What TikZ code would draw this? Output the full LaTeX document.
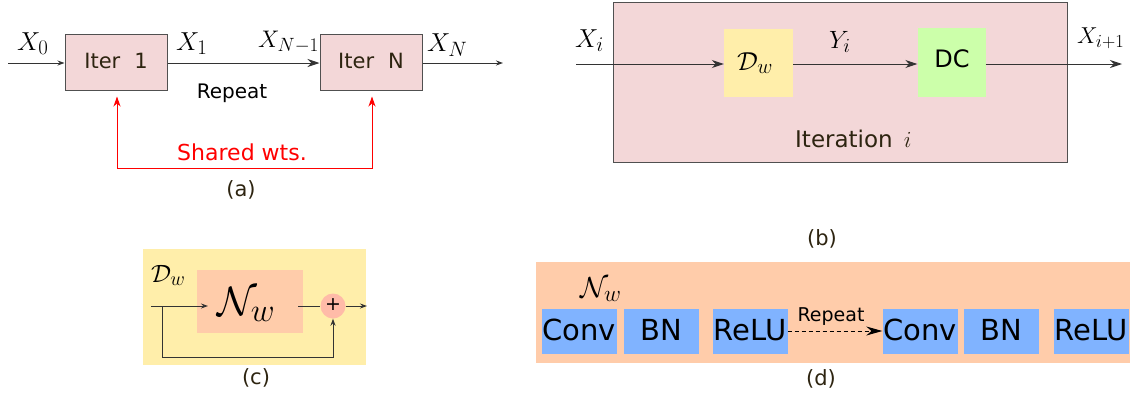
\RequirePackage{fix-cm}
\documentclass[tikz,border=0pt]{standalone}
\usepackage[no-math]{fontspec}
\setsansfont{DejaVu Sans}
\usetikzlibrary{arrows.meta}
\DeclareMathSizes{23}{23}{18.4}{13.8}
\DeclareMathSizes{24}{24}{19.2}{14.4}
\DeclareMathSizes{25}{25}{20}{15}
\DeclareMathSizes{26}{26}{20.8}{15.6}
\DeclareMathSizes{29}{29}{23.2}{17.4}
\DeclareMathSizes{41}{41}{32.8}{24.6}
\definecolor{brn}{HTML}{2D2410}
\definecolor{pinkbox}{HTML}{F3D7D8}
\definecolor{yelbox}{HTML}{FFEEAA}
\definecolor{grnbox}{HTML}{CCFFAA}
\definecolor{salm}{HTML}{FFCCAA}
\definecolor{circ}{HTML}{FFBBA8}
\definecolor{bluebox}{HTML}{80B3FF}
\definecolor{edge}{HTML}{505050}
\newcommand{\fs}[1]{\fontsize{#1}{#1}\selectfont}
\tikzset{
  blk/.style={draw=edge, line width=1pt, fill=pinkbox, inner sep=0pt},
  flat/.style={inner sep=0pt, draw=none},
  lbl/.style={inner sep=0pt, anchor=base, font=\sffamily\fs{21}, text=brn},
  mlbl/.style={inner sep=0pt, anchor=base west},
  wire/.style={line width=1pt, draw=black!80},
  arrs/.style={wire, -{Stealth[length=7pt,width=5pt]}},
  arrb/.style={wire, -{Stealth[length=12pt,width=8pt]}},
  layer/.style={flat, fill=bluebox, minimum width=75pt, minimum height=45pt},
  layertxt/.style={inner sep=0pt, anchor=base, font=\sffamily\fs{29}}
}
\begin{document}
\begin{tikzpicture}[x=1pt,y=-1pt]
\useasboundingbox (0,0) rectangle (1130,397);
% ---------- (a)
\node[blk, minimum width=102pt, minimum height=56pt] (it1) at (116,62) {};
\node[lbl] at (116,68) {Iter\hspace{14pt}1};
\node[blk, minimum width=102pt, minimum height=56pt] (itN) at (371,62) {};
\node[lbl] at (371,68) {Iter\hspace{14pt}N};
\coordinate (ain) at (8,63);
\coordinate (aout) at (503,63);
\draw[arrs] (ain) -- (ain -| it1.west);
\draw[arrb] (it1.east |- ain) -- (itN.west |- ain);
\draw[arrs] (itN.east |- aout) -- (aout);
\node[mlbl, font=\fs{26}] at (17,50) {$X_0$};
\node[mlbl, font=\fs{26}] at (176,50) {$X_1$};
\node[mlbl, font=\fs{24}] at (258,47) {$X_{N-1}$};
\node[mlbl, font=\fs{26}] at (427,51) {$X_N$};
\node[inner sep=0pt, anchor=base, font=\sffamily\fs{20}] at (232,98) {Repeat};
\coordinate (r1) at (117,168);
\coordinate (r2) at (372,168);
\draw[red, line width=1pt, {Stealth[length=10pt,width=7pt,inset=3pt]}-{Stealth[length=10pt,width=7pt,inset=3pt]}, shorten <=6pt, shorten >=6pt]
  (it1.south -| r1) -- (r1) -- (r2) -- (itN.south -| r2);
\node[inner sep=0pt, anchor=base, font=\sffamily\fs{22}, text=red] at (242,160) {Shared wts.};
\node[lbl] at (241,196) {(a)};
% ---------- (b)
\node[blk, minimum width=454pt, minimum height=160pt] (iterb) at (840,82) {};
\node[flat, fill=yelbox, minimum width=69pt, minimum height=68pt] (dw) at (758.5,63) {};
\node[mlbl, font=\fs{26}] at (737,70) {$\mathcal{D}_w$};
\node[flat, fill=grnbox, minimum width=68pt, minimum height=69pt] (dc) at (951.5,62) {};
\node[inner sep=0pt, anchor=base, font=\sffamily\fs{24}] at (952,67) {DC};
\coordinate (bin) at (576,64);
\coordinate (bout) at (1122,64);
\draw[arrb] (bin) -- (bin -| dw.west);
\draw[arrb] (dw.east |- bin) -- (dc.west |- bin);
\draw[arrb] (dc.east |- bout) -- (bout);
\node[mlbl, font=\fs{26}] at (575,47) {$X_i$};
\node[mlbl, font=\fs{25}] at (829,48) {$Y_i$};
\node[mlbl, font=\fs{23}] at (1077,43) {$X_{i+1}$};
\node[lbl, anchor=base west, font=\sffamily\fs{23}] at (795,147) {Iteration\, $i$};
\node[lbl] at (822,245) {(b)};
% ---------- (c)
\node[flat, fill=yelbox, minimum width=223pt, minimum height=116pt] (cbg) at (254.5,307) {};
\node[flat, fill=salm, minimum width=106pt, minimum height=63pt] (nw) at (250,301.5) {};
\node[mlbl, font=\fs{41}] at (217,315) {$\mathcal{N}_w$};
\node[circle, fill=circ, minimum size=25pt, inner sep=0pt] (plus) at (333,306) {};
\node[inner sep=0pt, font=\sffamily\fs{19}] at (333,305) {+};
\coordinate (cin) at (151,306);
\coordinate (ctip) at (208,306);
\coordinate (cbr) at (162,306);
\coordinate (cnw) at (298,306);
\coordinate (cout) at (367,306);
\coordinate (cbot) at (162,357);
\draw[arrs] (cin) -- (ctip);
\draw[wire] (cnw) -- (plus.west);
\draw[arrs] (plus.east) -- (cout);
\draw[arrs] (cbr) -- (cbot) -- (cbot -| plus) -- (plus.south);
\node[mlbl, font=\fs{25}] at (151,282) {$\mathcal{D}_w$};
\node[lbl] at (256,384) {(c)};
% ---------- (d)
\node[flat, fill=salm, minimum width=594pt, minimum height=101pt] (dbg) at (833,312.5) {};
\node[layer] (conv1) at (579,331) {};
\node[layer] (bn1) at (661,331) {};
\node[layer] (relu1) at (750,331) {};
\node[layer] (conv2) at (920,331) {};
\node[layer] (bn2) at (1001.5,331) {};
\node[layer] (relu2) at (1091,331) {};
\foreach \n/\t in {conv1/Conv, bn1/BN, relu1/ReLU, conv2/Conv, bn2/BN, relu2/ReLU}
  \node[layertxt] at ([yshift=-9pt]\n.center) {\t};
\draw[line width=1pt, dash pattern=on 4pt off 3pt, -{Stealth[length=16pt,width=9pt]}] (relu1.east) -- (conv2.west);
\node[inner sep=0pt, anchor=base, font=\sffamily\fs{19}] at (831,321) {Repeat};
\node[mlbl, font=\fs{29}] at (580,297) {$\mathcal{N}_w$};
\node[lbl] at (821,385) {(d)};
\end{tikzpicture}
\end{document}
